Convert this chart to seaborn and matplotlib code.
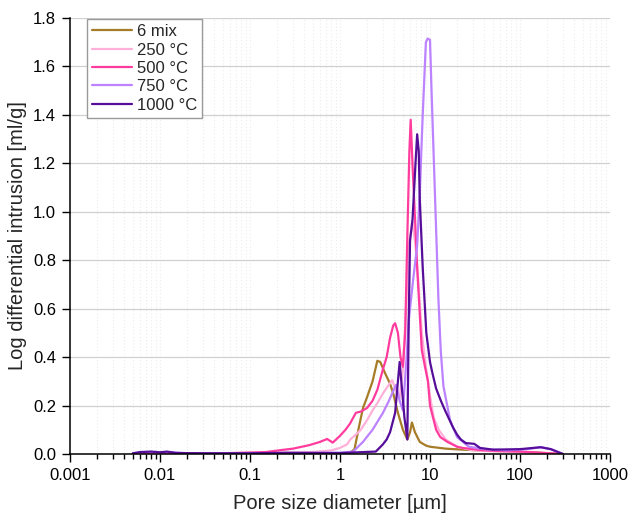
import numpy as np
import pandas as pd
import matplotlib
matplotlib.use("Agg")
import matplotlib.pyplot as plt
import seaborn as sns
from matplotlib.ticker import LogLocator, FixedLocator, NullFormatter

# ---------------- data ----------------
series_names = ["6 mix", "250 °C", "500 °C", "750 °C", "1000 °C"]
series_colors = ["#A67C28", "#FFB0D8", "#FF3C9E", "#BC82FF", "#560E9A"]

mix_x = [0.005, 0.01, 0.1, 1.0, 1.3, 1.45, 1.6, 1.8, 2.0, 2.3, 2.6, 2.8, 3.2, 3.6,
         3.9, 4.4, 5.0, 5.6, 6.0, 6.3, 6.8, 7.7, 9.0, 10, 15, 23, 55, 150, 300]
mix_y = [0.003, 0.004, 0.003, 0.003, 0.005, 0.02, 0.1, 0.19, 0.235, 0.30, 0.385,
         0.38, 0.33, 0.29, 0.25, 0.17, 0.10, 0.06, 0.09, 0.13, 0.09, 0.05, 0.035,
         0.03, 0.022, 0.018, 0.012, 0.006, 0.0]

t250_x = [0.005, 0.1, 0.5, 0.8, 1.0, 1.2, 1.3, 1.5, 1.7, 2.0, 2.3, 2.6, 3.0, 3.4,
          3.8, 4.2, 4.6, 5.0, 5.5, 5.9, 6.4, 6.9, 7.4, 8.1, 9.0, 10, 11, 12.5, 15,
          20, 30, 60, 150, 300]
t250_y = [0.003, 0.003, 0.008, 0.015, 0.025, 0.04, 0.06, 0.08, 0.10, 0.14, 0.18,
          0.21, 0.25, 0.28, 0.305, 0.26, 0.23, 0.35, 0.65, 0.88, 0.96, 0.86, 0.72,
          0.50, 0.36, 0.24, 0.15, 0.10, 0.06, 0.03, 0.015, 0.01, 0.005, 0.0]

t500_x = [0.005, 0.05, 0.15, 0.23, 0.3, 0.46, 0.6, 0.72, 0.83, 1.0, 1.15, 1.29,
          1.5, 1.7, 2.0, 2.3, 2.6, 3.0, 3.3, 3.6, 3.9, 4.1, 4.4, 4.7, 5.0, 5.3,
          5.6, 5.9, 6.1, 6.4, 6.8, 7.2, 8.1, 8.8, 9.5, 10, 11.7, 13, 15.6, 20, 23,
          40, 100, 300]
t500_y = [0.002, 0.003, 0.008, 0.017, 0.022, 0.037, 0.05, 0.062, 0.047, 0.075,
          0.1, 0.125, 0.17, 0.175, 0.19, 0.22, 0.265, 0.35, 0.40, 0.48, 0.53,
          0.54, 0.50, 0.40, 0.36, 0.50, 0.90, 1.25, 1.38, 1.19, 0.98, 0.77, 0.43,
          0.36, 0.30, 0.20, 0.10, 0.07, 0.05, 0.03, 0.025, 0.015, 0.01, 0.0]

t750_x = [0.005, 0.007, 0.01, 0.013, 0.02, 0.1, 1.0, 1.4, 1.8, 2.3, 3.0, 3.5,
          3.9, 4.2, 4.6, 5.0, 5.5, 5.8, 6.5, 7.2, 7.7, 8.3, 9.0, 9.4, 10.0, 10.4,
          11.4, 12.4, 13.2, 14.1, 16.7, 20, 27, 40, 70, 120, 170, 220, 300]
t750_y = [0.003, 0.008, 0.006, 0.008, 0.003, 0.003, 0.005, 0.01, 0.05, 0.10,
          0.17, 0.22, 0.26, 0.285, 0.22, 0.18, 0.40, 0.55, 0.72, 0.86, 1.08, 1.40,
          1.70, 1.715, 1.71, 1.50, 1.05, 0.64, 0.42, 0.28, 0.14, 0.07, 0.03, 0.02,
          0.015, 0.02, 0.028, 0.02, 0.0]

t1000_x = [0.005, 0.006, 0.008, 0.01, 0.012, 0.015, 0.03, 0.1, 0.25, 1.0, 2.5,
           3.0, 3.3, 3.6, 4.1, 4.4, 4.6, 4.8, 5.2, 5.6, 5.8, 6.0, 6.4, 6.9, 7.2,
           7.5, 7.7, 8.3, 9.1, 10, 10.7, 11.7, 13.2, 14.7, 18, 20, 22, 25, 31, 36,
           50, 100, 170, 220, 300]
t1000_y = [0.003, 0.008, 0.01, 0.007, 0.01, 0.004, 0.003, 0.003, 0.005, 0.004,
           0.01, 0.04, 0.06, 0.09, 0.17, 0.30, 0.38, 0.30, 0.15, 0.06, 0.55, 0.88,
           0.97, 1.20, 1.32, 1.25, 1.05, 0.77, 0.50, 0.38, 0.33, 0.27, 0.22, 0.18,
           0.11, 0.08, 0.06, 0.045, 0.042, 0.025, 0.018, 0.02, 0.028, 0.02, 0.0]

xtick_values = [0.001, 0.01, 0.1, 1, 10, 100, 1000]
xtick_labels = ["0.001", "0.01", "0.1", "1", "10", "100", "1000"]
ytick_values = [0.0, 0.2, 0.4, 0.6, 0.8, 1.0, 1.2, 1.4, 1.6, 1.8]
ytick_labels = ["0.0", "0.2", "0.4", "0.6", "0.8", "1.0", "1.2", "1.4", "1.6", "1.8"]

all_x = [mix_x, t250_x, t500_x, t750_x, t1000_x]
all_y = [mix_y, t250_y, t500_y, t750_y, t1000_y]

frames = []
for name, xs, ys in zip(series_names, all_x, all_y):
    frames.append(pd.DataFrame({"x": xs, "y": ys, "series": name}))
df = pd.concat(frames, ignore_index=True)

# ---------------- styling ----------------
sns.set_theme(style="ticks")
plt.rcParams['font.family'] = ['Liberation Sans', 'DejaVu Sans']

fig = plt.figure(figsize=(6.31, 5.16), dpi=100)
ax = fig.add_axes([70 / 631, 62 / 516, 540 / 631, 436 / 516])

for name, col in zip(series_names, series_colors):
    sub = df[df["series"] == name]
    sns.lineplot(data=sub, x="x", y="y", ax=ax, color=col, lw=1.6,
                 label=name, sort=False, estimator=None)

ax.set_xscale("log")
ax.set_xlim(1e-3, 1e3)
ax.set_ylim(0, 1.8)

ax.xaxis.set_major_locator(FixedLocator(xtick_values))
ax.set_xticklabels(xtick_labels)
ax.xaxis.set_minor_locator(LogLocator(base=10, subs=np.arange(2, 10)))
ax.xaxis.set_minor_formatter(NullFormatter())
ax.set_yticks(ytick_values)
ax.set_yticklabels(ytick_labels)

ax.tick_params(axis="both", which="major", direction="out", length=6, width=1,
               color="black", labelsize=12, pad=4, labelcolor="black")
ax.tick_params(axis="x", which="minor", direction="out", length=3.5, width=1,
               color="black")

for s in ["top", "right"]:
    ax.spines[s].set_visible(False)
for s in ["left", "bottom"]:
    ax.spines[s].set_color("black")
    ax.spines[s].set_linewidth(1.1)

ax.set_axisbelow(True)
ax.yaxis.grid(True, which="major", color="#d0d0d0", lw=0.9)
ax.xaxis.grid(True, which="both", color="#ececec", lw=0.8, ls=(0, (1, 2)))

ax.set_xlabel("Pore size diameter [µm]", fontsize=14.5, labelpad=8)
ax.set_ylabel("Log differential intrusion [ml/g]", fontsize=14.5, labelpad=4)

leg = ax.legend(loc="upper left", bbox_to_anchor=(0.031, 0.997), frameon=True,
                fancybox=False, edgecolor="#9a9a9a", framealpha=1,
                fontsize=12, handlelength=2.4, labelspacing=0.2,
                borderpad=0.3, handletextpad=0.3, borderaxespad=0)
leg.get_frame().set_linewidth(1.0)

fig.savefig("out.png", dpi=100)
